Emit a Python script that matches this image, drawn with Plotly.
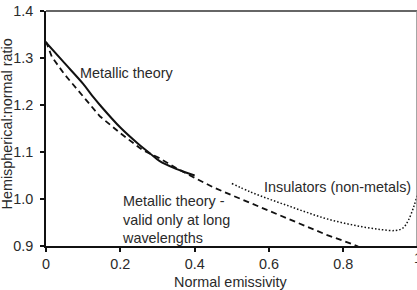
import plotly.graph_objects as go

# Metallic theory (solid)
metal_x = [0.0, 0.05, 0.10, 0.128, 0.145, 0.20, 0.25, 0.28, 0.305, 0.35, 0.40]
metal_y = [1.333, 1.289, 1.245, 1.216, 1.200, 1.152, 1.116, 1.097, 1.081, 1.064, 1.050]

# Metallic theory valid only at long wavelengths (dashed)
long_x = [0.0, 0.016, 0.05, 0.10, 0.145, 0.20, 0.26, 0.305, 0.35, 0.40, 0.45, 0.50, 0.60, 0.70, 0.754, 0.80, 0.84]
long_y = [1.335, 1.302, 1.265, 1.217, 1.176, 1.140, 1.104, 1.087, 1.066, 1.045, 1.025, 1.008, 0.975, 0.943, 0.924, 0.911, 0.899]

# Insulators (dotted)
ins_x = [0.50, 0.55, 0.60, 0.65, 0.70, 0.75, 0.80, 0.85, 0.90, 0.94, 0.96, 0.975, 0.99, 1.0]
ins_y = [1.033, 1.015, 1.000, 0.986, 0.972, 0.959, 0.949, 0.941, 0.935, 0.933, 0.938, 0.955, 0.985, 1.012]

x_ticks = [0, 0.2, 0.4, 0.6, 0.8]
x_tick_labels = ["0", "0.2", "0.4", "0.6", "0.8"]
y_ticks = [0.9, 1.0, 1.1, 1.2, 1.3, 1.4]
y_tick_labels = ["0.9", "1.0", "1.1", "1.2", "1.3", "1.4"]

FONT = "Liberation Sans, Arial, sans-serif"
TXT = "#2a2a2a"

fig = go.Figure()
fig.add_trace(go.Scatter(x=long_x, y=long_y, mode="lines",
                         line=dict(color="#111", width=1.8, dash="6px,4px"), showlegend=False))
fig.add_trace(go.Scatter(x=metal_x, y=metal_y, mode="lines",
                         line=dict(color="#111", width=2, shape="spline"), showlegend=False))
fig.add_trace(go.Scatter(x=ins_x, y=ins_y, mode="lines",
                         line=dict(color="#111", width=1.5, dash="1.5px,2px", shape="spline"), showlegend=False))

W, H = 417, 290
L, T, B = 46, 11, 44
plot_w = W - L
x_max = plot_w / 371.7

fig.update_layout(
    width=W, height=H,
    margin=dict(l=L, r=0, t=T, b=B),
    paper_bgcolor="white", plot_bgcolor="white",
    font=dict(family=FONT, size=14.4, color=TXT),
    xaxis=dict(range=[0, x_max], tickvals=x_ticks, ticktext=x_tick_labels,
               showgrid=False, zeroline=False, showline=True, linecolor="#111", linewidth=1.5,
               ticks="outside", ticklen=4, tickcolor="#111", tickwidth=1.5,
               tickfont=dict(family=FONT, size=14.4, color=TXT)),
    yaxis=dict(range=[0.9, 1.4], tickvals=y_ticks, ticktext=y_tick_labels,
               showgrid=False, zeroline=False, showline=True, linecolor="#111", linewidth=1.5,
               ticks="outside", ticklen=4, tickcolor="#111", tickwidth=1.5,
               ticklabelstandoff=4,
               tickfont=dict(family=FONT, size=14.4, color=TXT)),
    shapes=[
        dict(type="line", xref="paper", yref="paper", x0=0, x1=1, y0=1, y1=1,
             line=dict(color="#666", width=1.8)),
        dict(type="line", xref="paper", yref="paper", x0=1, x1=1, y0=0, y1=1,
             line=dict(color="#888", width=1.5)),
    ],
)

fig.add_annotation(text="Metallic theory", x=0.085, y=1.268, xref="x", yref="y",
                   xanchor="left", yanchor="middle", showarrow=False)
fig.add_annotation(text="Insulators (non-metals)", x=0.785, y=1.026, xref="x", yref="y",
                   xanchor="center", yanchor="middle", showarrow=False)
fig.add_annotation(text="Metallic theory -<br>valid only at long<br>wavelengths", x=0.198, y=0.956,
                   xref="x", yref="y", xanchor="left", yanchor="middle", align="left", showarrow=False)
fig.add_annotation(text="1", x=(418 - L) / plot_w, y=-0.052, xref="paper", yref="paper",
                   xanchor="center", yanchor="middle", showarrow=False)
fig.add_annotation(text="Normal emissivity", x=(231 - L) / plot_w, y=-(281.5 - 246) / 235,
                   xref="paper", yref="paper", xanchor="center", yanchor="middle", showarrow=False)
fig.add_annotation(text="Hemispherical:normal ratio", x=(6.5 - L) / plot_w, y=(246 - 124) / 235,
                   xref="paper", yref="paper", xanchor="center", yanchor="middle",
                   textangle=-90, showarrow=False)

fig.write_html("out.html")
